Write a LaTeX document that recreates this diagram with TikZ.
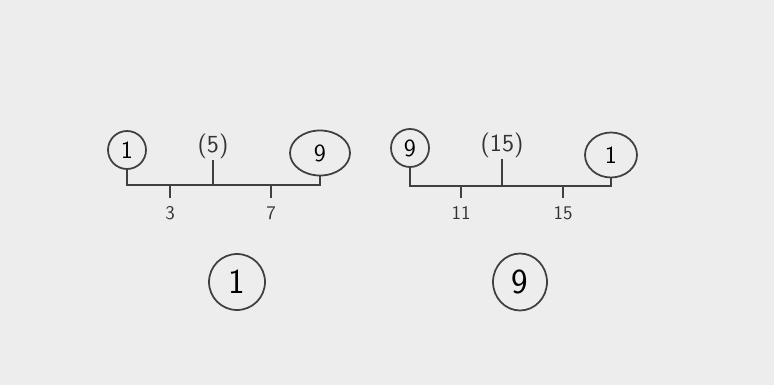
\documentclass[tikz,border=0pt]{standalone}
\usetikzlibrary{shapes.geometric}

\begin{document}
\begin{tikzpicture}[x=0.02cm,y=-0.02cm,
  ink/.style={draw=black!75,line width=1.1pt},
  ring/.style={ellipse,draw=black!75,line width=1pt,inner sep=0pt,font=\sffamily\fontsize{14}{14}\selectfont},
  bigring/.style={ring,font=\sffamily\fontsize{20}{20}\selectfont},
  mid/.style={inner sep=1pt,text=black!80,font=\sffamily\fontsize{14}{14}\selectfont},
  ticklabel/.style={inner sep=1pt,text=black!80,font=\sffamily\fontsize{11}{11}\selectfont}]
\fill[black!7] (0,0) rectangle (774,385);
\useasboundingbox (0,0) rectangle (774,385);
% left tree
\node[ring,minimum width=0.76cm,minimum height=0.76cm] (la) at (127,150) {1};
\node[mid] (lm) at (213,146) {(5)};
\node[ring,minimum width=1.2cm,minimum height=0.9cm] (lb) at (320,153) {9};
\coordinate (lbar) at (0,185);
\draw[ink] (la.south) -- (la.south |- lbar) -- (lb.south |- lbar) -- (lb.south);
\draw[ink] (lm.south) -- (lm.south |- lbar);
\node[ticklabel] (l3) at (170,213) {3};
\node[ticklabel] (l7) at (271,213) {7};
\foreach \t in {l3,l7}{\draw[ink,shorten >=0.12cm] (\t |- lbar) -- (\t.north);}
% right tree
\node[ring,minimum width=0.76cm,minimum height=0.76cm] (ra) at (410,148) {9};
\node[mid] (rm) at (502,145) {(15)};
\node[ring,minimum width=1.04cm,minimum height=0.9cm] (rb) at (611,155) {1};
\coordinate (rbar) at (0,186);
\draw[ink] (ra.south) -- (ra.south |- rbar) -- (rb.south |- rbar) -- (rb.south);
\draw[ink] (rm.south) -- (rm.south |- rbar);
\node[ticklabel] (r11) at (461,213) {11};
\node[ticklabel] (r15) at (563,213) {15};
\foreach \t in {r11,r15}{\draw[ink,shorten >=0.12cm] (\t |- rbar) -- (\t.north);}
% results
\node[bigring,minimum width=1.12cm,minimum height=1.12cm] (resl) at (237,282) {1};
\node[bigring,minimum width=1.08cm,minimum height=1.14cm] (resr) at (520,282) {9};
\end{tikzpicture}
\end{document}
